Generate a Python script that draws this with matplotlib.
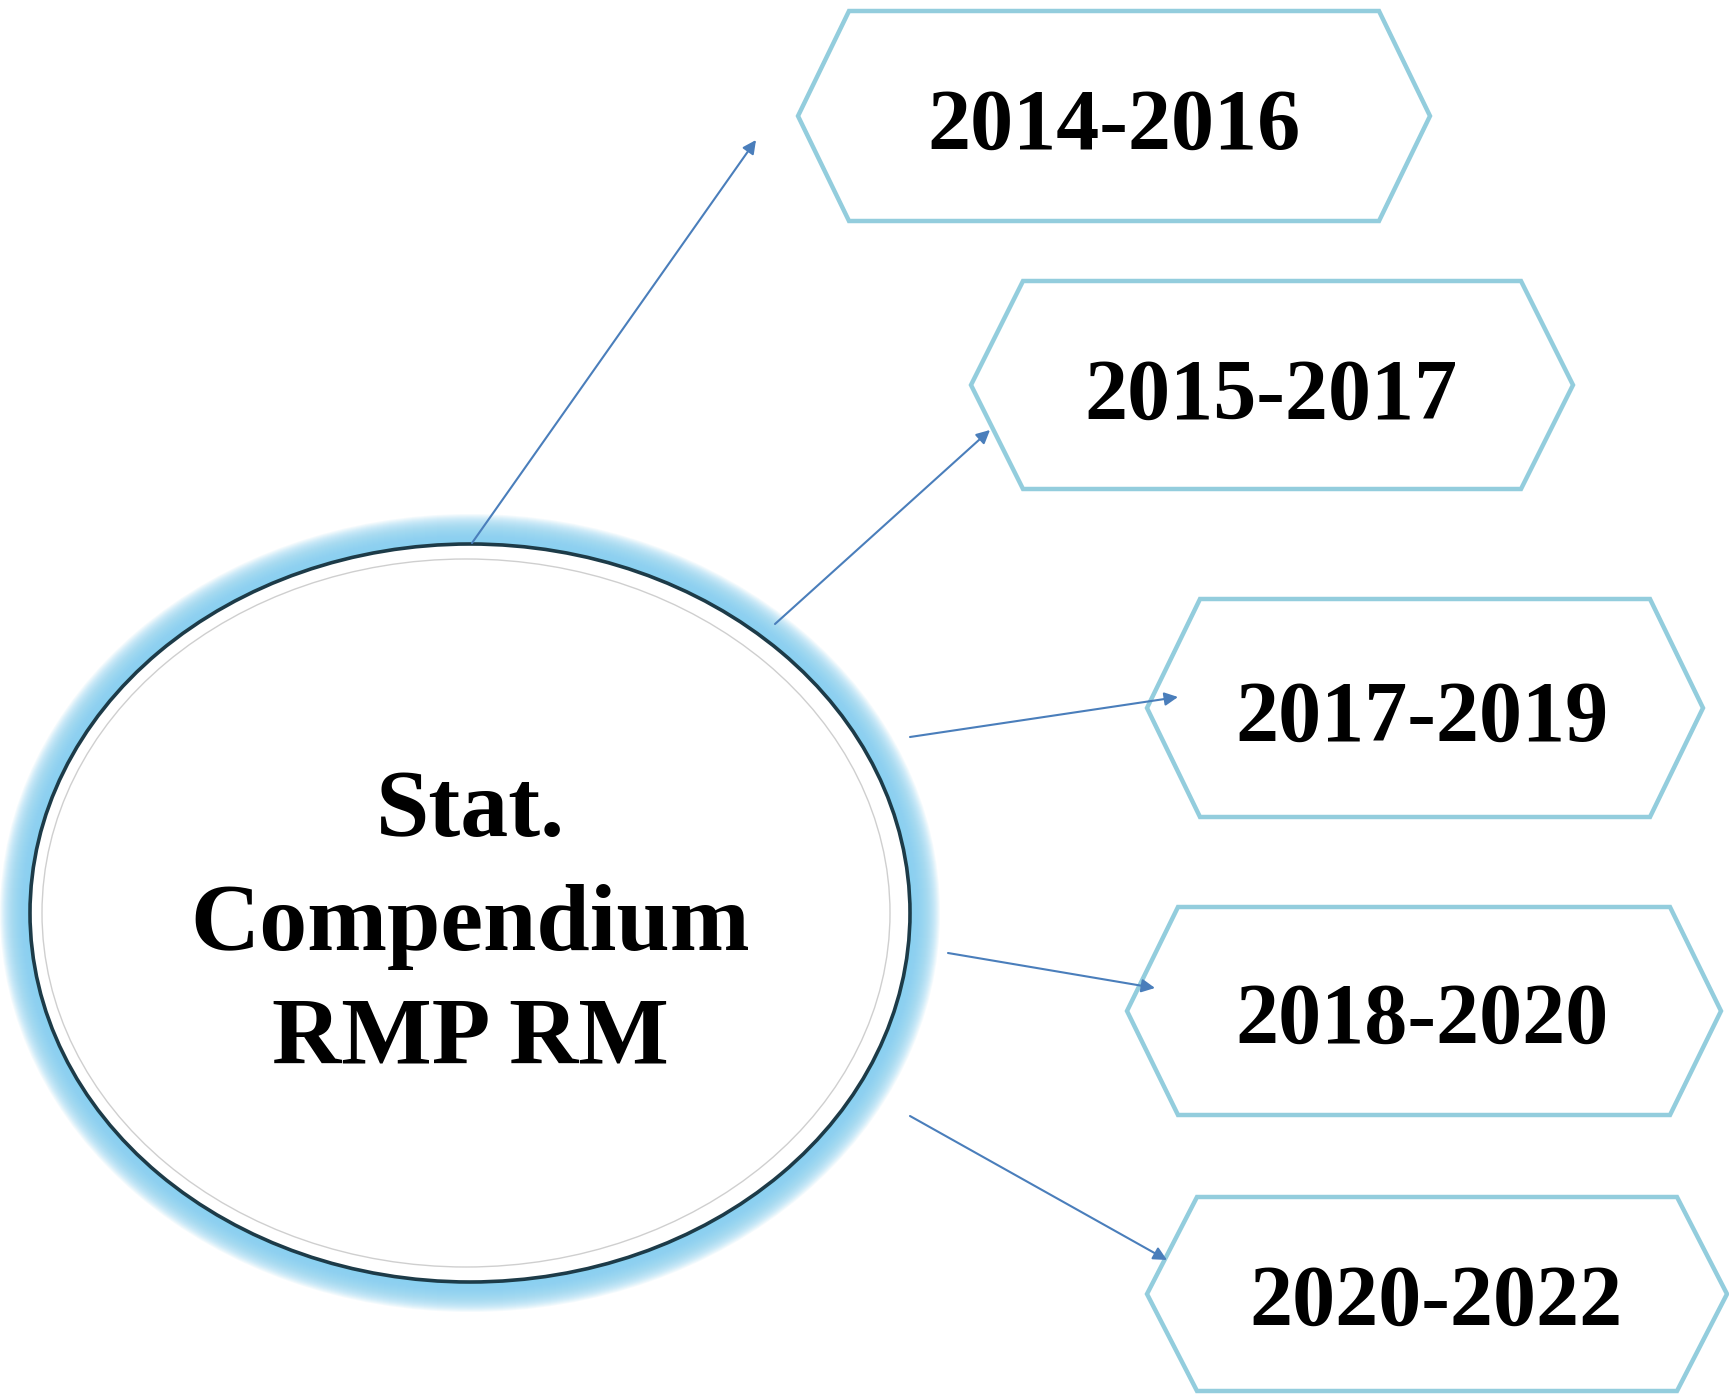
import matplotlib
matplotlib.use("Agg")
import matplotlib.pyplot as plt
from matplotlib.patches import Ellipse, Polygon

# labels
center_label = ["Stat.", "Compendium", "RMP RM"]
periods = ["2014-2016", "2015-2017", "2017-2019", "2018-2020", "2020-2022"]

# layout (pixel units): hexagon centre x, centre y, half width, half height, inset
hex_cx = [1114, 1272, 1425, 1424, 1437]
hex_cy = [116, 385, 708, 1011, 1294]
hex_w = [316, 301, 278, 297, 290]
hex_h = [105, 104, 109, 104, 97]
hex_d = [51, 52, 53, 51, 50]
text_x = [1114, 1271, 1422, 1422, 1436]
text_base = [149, 419, 741, 1043, 1325]
center_base = [836, 950, 1064]

# arrows: start -> end
arr_start = [(472, 543), (775, 624), (910, 737), (948, 953), (910, 1116)]
arr_end = [(756, 140), (990, 430), (1178, 697), (1155, 988), (1167, 1260)]

W, H = 1729, 1394
fig = plt.figure(figsize=(W / 100, H / 100), dpi=100)
ax = fig.add_axes([0, 0, 1, 1])
ax.set_xlim(0, W)
ax.set_ylim(H, 0)
ax.axis("off")

# central ellipse with soft blue glow
ecx, ecy, ea, eb = 470, 913, 440, 369
for k in range(30, 0, -1):
    ax.add_patch(Ellipse((ecx, ecy), 2 * ea + 2 * k, 2 * eb + 2 * k,
                         facecolor="#86d0f0", edgecolor="none", alpha=0.09))
ax.add_patch(Ellipse((ecx, ecy), 2 * ea, 2 * eb, facecolor="white",
                     edgecolor="#1d3b48", lw=2.6))
ax.add_patch(Ellipse((ecx - 4, ecy), 2 * ea - 32, 2 * eb - 30, facecolor="none",
                     edgecolor="#cfcfcf", lw=1.0))

for line, yb in zip(center_label, center_base):
    ax.text(ecx, yb, line, ha="center", va="baseline", fontsize=69,
            fontweight="bold", family="Liberation Serif")

# hexagon boxes
for i, lab in enumerate(periods):
    cx, cy, w, h, d = hex_cx[i], hex_cy[i], hex_w[i], hex_h[i], hex_d[i]
    pts = [(cx - w, cy), (cx - w + d, cy - h), (cx + w - d, cy - h),
           (cx + w, cy), (cx + w - d, cy + h), (cx - w + d, cy + h)]
    ax.add_patch(Polygon(pts, closed=True, facecolor="white",
                         edgecolor="#93cddd", lw=3.2, joinstyle="miter"))
    ax.text(text_x[i], text_base[i], lab, ha="center", va="baseline",
            fontsize=62, fontweight="bold", family="Liberation Serif")

# arrows
for s, e in zip(arr_start, arr_end):
    ax.annotate("", xy=e, xytext=s,
                arrowprops=dict(arrowstyle="-|>", color="#4a7ebb", lw=1.5,
                                mutation_scale=20, shrinkA=0, shrinkB=0))

fig.savefig("out.png", dpi=100)
